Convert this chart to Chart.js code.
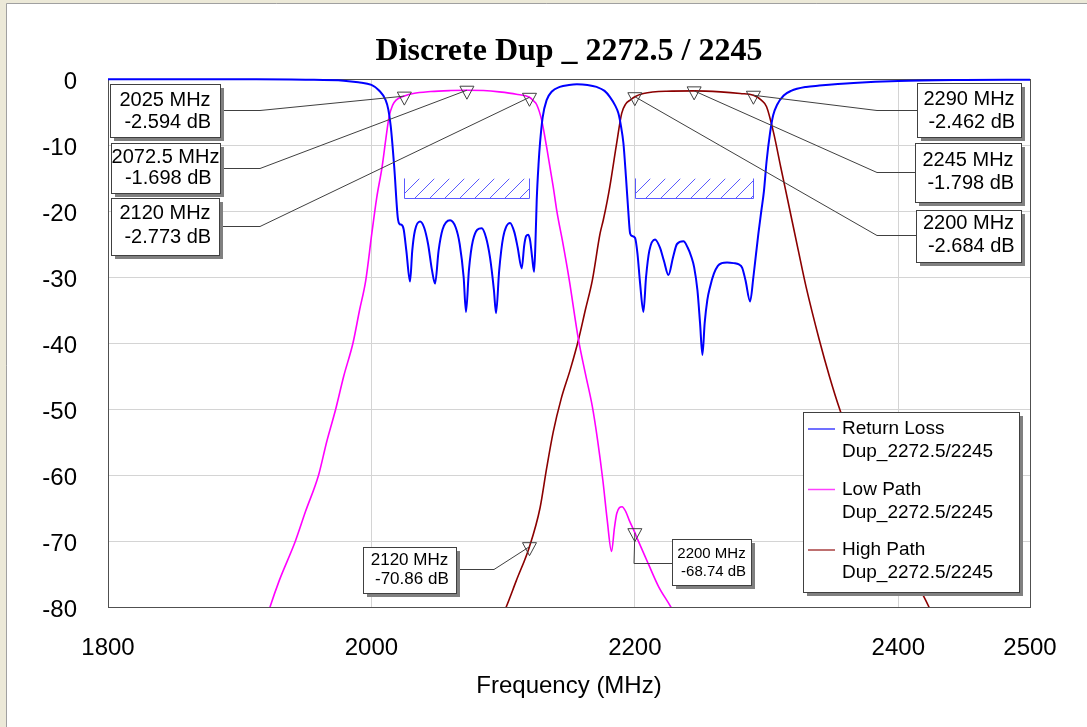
<!DOCTYPE html>
<html>
<head>
<meta charset="utf-8">
<script src="https://cdn.jsdelivr.net/npm/chart.js@4.4.0/dist/chart.umd.min.js"></script>
<style>
html, body { margin: 0; padding: 0; background: #fff; }
#wrap { width: 1087px; height: 727px; }
</style>
</head>
<body>
<div id="wrap"><canvas id="dupChart" width="1087" height="727"></canvas></div>
<script>
// === Data ===
const chartTitle = 'Discrete Dup _ 2272.5 / 2245';
const xAxisTitle = 'Frequency (MHz)';
const xTickValues = [1800, 2000, 2200, 2400, 2500];
const yMin = -80, yMax = 0, yStep = 10;

const seriesNames = ['Return Loss', 'Low Path', 'High Path'];
const designName = 'Dup_2272.5/2245';

// Return loss (S11)
const rlFreq = [1800, 1900, 1950, 1979, 1990, 2000, 2005.6, 2010.8, 2012.8, 2014.7, 2017.3, 2020, 2021.5, 2023, 2024.5,
  2026.5, 2029.3, 2031, 2033, 2036.9, 2040, 2043, 2046, 2048.3, 2051, 2054, 2059.7, 2064, 2067, 2070, 2071.8,
  2074, 2077, 2083.7, 2087, 2090, 2093, 2094.6, 2097, 2100, 2105.2, 2108.5, 2111, 2114.1, 2116, 2117.5, 2119.1,
  2120.5, 2122, 2123.5, 2124.5, 2125.5, 2127, 2128, 2130, 2133, 2137, 2143, 2150, 2156, 2164, 2171, 2177, 2181,
  2185, 2187.5, 2189.5, 2191.3, 2193.3, 2195, 2196.4, 2198, 2200.2, 2202, 2204, 2206.5, 2208.5, 2211, 2215.3,
  2219, 2222, 2225.5, 2229, 2232, 2236.9, 2240, 2243, 2245, 2247.5, 2249.5, 2251.3, 2253, 2255, 2257.1, 2260,
  2263, 2266, 2270, 2275, 2279, 2281.5, 2284, 2287.5, 2290, 2292, 2293.8, 2296, 2298, 2300, 2302.7, 2305, 2308,
  2313, 2318.6, 2330, 2340, 2366, 2400, 2450, 2500];
const rlDb = [-0.02, -0.05, -0.1, -0.25, -0.5, -0.9, -1.7, -3.2, -4.6, -7.2, -13.3, -21.0, -22.0, -22.1, -22.8,
  -26, -30.7, -26, -23, -21.6, -22.5, -25, -29, -31.0, -26, -22.8, -21.4, -22.5, -25, -30, -35.3,
  -29, -24.5, -22.6, -24, -27, -32, -35.5, -29, -24, -21.8, -23.2, -25.5, -28.7, -25.2, -23.8, -23.6,
  -24.5, -27, -29.2, -25, -18.3, -12.5, -9.7, -5.8, -3.2, -1.9, -1.2, -0.9, -0.8, -0.9, -1.2, -1.8, -2.7,
  -4.0, -5.2, -7.2, -9.7, -15, -20, -23.4, -23.8, -24.1, -26.5, -31, -35.3, -30, -26, -24.3,
  -25.5, -27.5, -29.7, -27, -25, -24.6, -25.5, -27, -28.5, -32, -37, -41.8, -37, -33.5, -31.5, -29.5,
  -28.3, -27.9, -27.8, -27.9, -28.1, -28.6, -30.5, -33.7, -30, -26.5, -23.4, -20, -17, -12.5, -8.1, -5.5, -3.9,
  -2.5, -1.8, -1.2, -1.0, -0.6, -0.3, -0.15, -0.1];

// Low path (S21)
const lowFreq = [1900, 1923, 1930, 1942.3, 1950, 1959.9, 1966, 1972.9, 1979, 1986, 1991, 1995.7, 2000.3, 2004,
  2008.1, 2011, 2013.4, 2016, 2018.7, 2025, 2031.7, 2045, 2060, 2072.5, 2085, 2097, 2110, 2120, 2123, 2125.5,
  2129.2, 2133, 2138, 2141, 2145, 2150, 2157.2, 2162.4, 2167.7, 2171.7, 2175.7, 2179, 2182.3, 2184.5, 2186.3,
  2190.3, 2193, 2195.6, 2200, 2202.2, 2210.1, 2218, 2227.3, 2240];
const lowDb = [-95, -80, -76, -70, -65.5, -60, -55, -50, -45, -40, -35, -30.5, -23.4, -18,
  -13.3, -9, -5.7, -4, -3.2, -2.594, -2.2, -1.9, -1.75, -1.698, -1.75, -1.95, -2.3, -2.773, -3.3, -3.9,
  -6.2, -10.3, -16.3, -20.3, -24.5, -30.2, -39.5, -44.6, -49.6, -54.7, -60.8, -66.8, -71.6, -68, -65.8,
  -64.8, -65.5, -66.8, -68.74, -69.8, -73.4, -76.9, -80, -85];

// High path (S31)
const highFreq = [2080, 2102.3, 2110, 2120, 2128, 2133, 2138, 2144, 2151, 2157.2, 2162.4, 2167.7, 2173.6, 2176,
  2179, 2181, 2186.2, 2190, 2193, 2196.4, 2200, 2206.5, 2224, 2245, 2265, 2280, 2290, 2296, 2300, 2305.4,
  2310.7, 2316, 2324, 2330, 2340, 2347.8, 2355.8, 2370, 2390, 2405, 2419.3, 2423.3, 2440];
const highDb = [-90, -80, -76, -70.86, -65, -59, -53.5, -48.5, -44, -39.5, -35, -30.5, -23.4, -21.4,
  -18.5, -16.3, -9.7, -5.2, -3.8, -3.2, -2.684, -2.2, -1.85, -1.798, -1.95, -2.2, -2.462, -3.2, -4.2, -8.2,
  -13.3, -18.3, -25.9, -31.5, -39.5, -45.1, -50.2, -58, -67, -73, -78.4, -80, -87];

// Return loss spec masks (MHz band, dB)
const maskBands = [[2025, 2120], [2200, 2290]];
const maskTop = -15, maskLevel = -18;

// Markers
const markerFreq = [2025, 2072.5, 2120, 2290, 2245, 2200, 2120, 2200];
const markerDb = [-2.594, -1.698, -2.773, -2.462, -1.798, -2.684, -70.86, -68.74];

// === Layout of the marker callouts (pixels) ===
const calloutLayout = [
  { box: [110, 84, 110, 53], lineY: [100, 122], size: 20, knee: [260, 110], side: 'left' },
  { box: [111, 143, 109, 50], lineY: [157, 178], size: 20, knee: [260, 168], side: 'left' },
  { box: [111, 198, 108, 57], lineY: [213, 237], size: 20, knee: [260, 226], side: 'left' },
  { box: [917, 83, 104, 54], lineY: [99, 122], size: 20, knee: [877, 110], side: 'right' },
  { box: [915, 143, 106, 59], lineY: [160, 183], size: 20, knee: [877, 172], side: 'right' },
  { box: [916, 210, 105, 52], lineY: [223, 246], size: 20, knee: [877, 235], side: 'right' },
  { box: [363, 547, 93, 46], lineY: [560, 579], size: 17, knee: [494, 569], side: 'left' },
  { box: [672, 539, 79, 46], lineY: [554, 572], size: 15, knee: [634, 563], side: 'right' }
];

const sansFont = '"Liberation Sans", Arial, sans-serif';
const colors = ['#0000FF', '#FF00FF', '#8B0000'];

function toPoints(fs, ds) { return fs.map((f, i) => ({ x: f, y: ds[i] })); }

function shadowBox(ctx, x, y, w, h) {
  ctx.fillStyle = '#808080';
  ctx.fillRect(x + 4, y + 4, w, h);
  ctx.fillStyle = '#ffffff';
  ctx.fillRect(x, y, w, h);
  ctx.strokeStyle = '#404040';
  ctx.lineWidth = 1;
  ctx.strokeRect(x + 0.5, y + 0.5, w, h);
}

const framePlugin = {
  id: 'frame',
  beforeDraw(chart) {
    const ctx = chart.ctx, W = chart.width, H = chart.height;
    ctx.save();
    ctx.fillStyle = '#ECE9D8';
    ctx.fillRect(0, 0, W, H);
    ctx.fillStyle = '#ffffff';
    ctx.fillRect(7, 4, W - 7, H - 4);
    ctx.strokeStyle = '#A0A0A0';
    ctx.lineWidth = 1;
    ctx.beginPath();
    ctx.moveTo(6.5, H); ctx.lineTo(6.5, 3.5); ctx.lineTo(W, 3.5);
    ctx.stroke();
    ctx.restore();
  },
  beforeDatasetsDraw(chart) {
    const { ctx, chartArea: a } = chart;
    ctx.save();
    ctx.strokeStyle = '#505050';
    ctx.lineWidth = 1;
    ctx.strokeRect(Math.round(a.left) + 0.5, Math.round(a.top) + 0.5,
      Math.round(a.right - a.left), Math.round(a.bottom - a.top));
    ctx.restore();
  }
};

const annotationPlugin = {
  id: 'annotations',
  afterDatasetsDraw(chart) {
    const ctx = chart.ctx, xs = chart.scales.x, ys = chart.scales.y;
    ctx.save();

    // spec masks with hatching
    maskBands.forEach(([f1, f2]) => {
      const x1 = Math.round(xs.getPixelForValue(f1)) + 0.5, x2 = Math.round(xs.getPixelForValue(f2)) + 0.5;
      const yt = Math.round(ys.getPixelForValue(maskTop)) + 0.5, yb = Math.round(ys.getPixelForValue(maskLevel)) + 0.5;
      const h = yb - yt;
      ctx.strokeStyle = '#5A5AFF';
      ctx.lineWidth = 1;
      ctx.save();
      ctx.beginPath(); ctx.rect(x1, yt, x2 - x1, h); ctx.clip();
      ctx.beginPath();
      for (let x = x1 - h; x < x2; x += 15) { ctx.moveTo(x, yb); ctx.lineTo(x + h, yt); }
      ctx.stroke();
      ctx.restore();
      ctx.beginPath();
      ctx.moveTo(x1, yt); ctx.lineTo(x1, yb); ctx.lineTo(x2, yb); ctx.lineTo(x2, yt);
      ctx.stroke();
    });

    // markers, leaders and callout boxes
    markerFreq.forEach((f, i) => {
      const mx = xs.getPixelForValue(f), my = ys.getPixelForValue(markerDb[i]);
      const L = calloutLayout[i];
      const [bx, by, bw, bh] = L.box;
      ctx.strokeStyle = '#404040';
      ctx.lineWidth = 1;
      ctx.beginPath();
      ctx.moveTo(mx - 7, my - 4); ctx.lineTo(mx + 7, my - 4); ctx.lineTo(mx, my + 9); ctx.closePath();
      ctx.stroke();
      const sx = L.side === 'left' ? bx + bw : bx;
      ctx.beginPath();
      ctx.moveTo(sx, L.knee[1] + 0.5); ctx.lineTo(L.knee[0], L.knee[1] + 0.5); ctx.lineTo(mx, my);
      ctx.stroke();
      shadowBox(ctx, bx, by, bw, bh);
      ctx.fillStyle = '#000';
      ctx.font = L.size + 'px ' + sansFont;
      ctx.textAlign = 'center';
      ctx.textBaseline = 'middle';
      ctx.fillText(f + ' MHz', bx + bw / 2, L.lineY[0]);
      ctx.fillText(' ' + markerDb[i] + ' dB', bx + bw / 2, L.lineY[1]);
    });

    // legend
    const lx = 803, ly = 412;
    shadowBox(ctx, lx, ly, 216, 180);
    ctx.font = '19px ' + sansFont;
    ctx.textAlign = 'left';
    ctx.textBaseline = 'middle';
    chart.data.datasets.forEach((ds, i) => {
      const y0 = ly + 17 + i * 60.5;
      ctx.strokeStyle = ds.borderColor;
      ctx.globalAlpha = 0.75;
      ctx.lineWidth = 1.5;
      ctx.beginPath(); ctx.moveTo(808, y0); ctx.lineTo(835, y0); ctx.stroke();
      ctx.globalAlpha = 1;
      ctx.fillStyle = '#000';
      ctx.fillText(ds.label, 842, y0);
      ctx.fillText(designName, 842, y0 + 23);
    });
    ctx.restore();
  }
};

const ctxDup = document.getElementById('dupChart');
new Chart(ctxDup, {
  type: 'line',
  data: {
    datasets: [
      { label: seriesNames[0], data: toPoints(rlFreq, rlDb), borderColor: colors[0], borderWidth: 2 },
      { label: seriesNames[1], data: toPoints(lowFreq, lowDb), borderColor: colors[1], borderWidth: 1.6 },
      { label: seriesNames[2], data: toPoints(highFreq, highDb), borderColor: colors[2], borderWidth: 1.6 }
    ]
  },
  options: {
    responsive: false,
    animation: false,
    events: [],
    layout: { padding: { left: 0, right: 57, top: 0, bottom: 0 } },
    datasets: {
      line: { pointRadius: 0, fill: false, cubicInterpolationMode: 'monotone', clip: { left: 0, top: 2, right: 0, bottom: 0 } }
    },
    scales: {
      x: {
        type: 'linear', min: 1800, max: 2500,
        afterBuildTicks: s => { s.ticks = xTickValues.map(v => ({ value: v })); },
        afterFit: s => { s.height = 120; },
        grid: { color: '#D4D4D4', drawTicks: false },
        border: { display: false },
        ticks: { color: '#000', padding: 27, font: { family: sansFont, size: 24 }, callback: v => String(v) },
        title: { display: true, text: xAxisTitle, color: '#000', padding: { top: 0, bottom: 26 }, font: { family: sansFont, size: 24 } }
      },
      y: {
        type: 'linear', min: yMin, max: yMax,
        afterFit: s => { s.width = 108; },
        grid: { color: '#D4D4D4', drawTicks: false },
        border: { display: false },
        ticks: { stepSize: yStep, color: '#000', padding: 31, labelOffset: 3, font: { family: sansFont, size: 24 }, callback: v => String(v) }
      }
    },
    plugins: {
      legend: { display: false },
      tooltip: { enabled: false },
      title: {
        display: true, fullSize: false, text: chartTitle, color: '#000',
        padding: { top: 33, bottom: 7.6 },
        font: { family: '"Liberation Serif", "Times New Roman", serif', size: 32, weight: 'bold' }
      }
    }
  },
  plugins: [framePlugin, annotationPlugin]
});
</script>
</body>
</html>
